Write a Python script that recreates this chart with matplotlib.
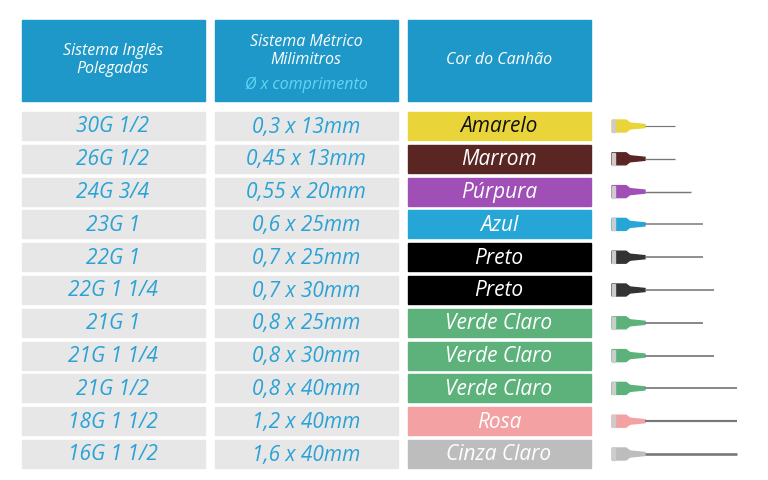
import matplotlib
matplotlib.use("Agg")
import matplotlib.pyplot as plt
from matplotlib.patches import Rectangle, Polygon

gauges = ["30G 1/2","26G 1/2","24G 3/4","23G 1","22G 1","22G 1 1/4","21G 1","21G 1 1/4","21G 1/2","18G 1 1/2","16G 1 1/2"]
metric = ["0,3 x 13mm","0,45 x 13mm","0,55 x 20mm","0,6 x 25mm","0,7 x 25mm","0,7 x 30mm","0,8 x 25mm","0,8 x 30mm","0,8 x 40mm","1,2 x 40mm","1,6 x 40mm"]
lengths_mm = [13,13,20,25,25,30,25,30,40,40,40]
diam_mm = [0.3,0.45,0.55,0.6,0.7,0.7,0.8,0.8,0.8,1.2,1.6]
color_names = ["Amarelo","Marrom","Púrpura","Azul","Preto","Preto","Verde Claro","Verde Claro","Verde Claro","Rosa","Cinza Claro"]
colors = ["#e9d53a","#5a2624","#a04fb6","#26a6d6","#000000","#000000","#5db27c","#5db27c","#5db27c","#f3a1a2","#bdbdbd"]
text_colors = ["#111111"] + ["#ffffff"]*10
headers = ["Sistema Inglês\nPolegadas","Sistema Métrico\nMilimitros","Cor do Canhão"]

fig = plt.figure(figsize=(7.68,4.8), dpi=100)
ax = fig.add_axes([0,0,1,1])
ax.set_xlim(0,768); ax.set_ylim(480,0); ax.axis("off")
font = "Open Sans"
hdr = "#1d98c8"; blue_txt = "#2aa2d6"; cell = "#e7e7e7"
cols = [(22,205),(215,398),(408,591)]
for (x0,x1) in cols:
    ax.add_patch(Rectangle((x0,20),x1-x0,81,color=hdr))
hs = 11.5
ax.text(113,60,headers[0],ha="center",va="center",color="white",fontsize=hs,style="italic",family=font,linespacing=1.15)
ax.text(306,51,headers[1],ha="center",va="center",color="white",fontsize=hs,style="italic",family=font,linespacing=1.15)
ax.text(306,85,"Ø x comprimento",ha="center",va="center",color="#63d6f7",fontsize=hs,style="italic",family=font)
ax.text(499,60,headers[2],ha="center",va="center",color="white",fontsize=hs,style="italic",family=font)

y0 = 112; pitch = 32.8; h = 28
for i in range(len(gauges)):
    y = y0 + i*pitch
    yc = y + h/2
    ax.add_patch(Rectangle((22,y),183,h,color=cell))
    ax.add_patch(Rectangle((215,y),183,h,color=cell))
    ax.add_patch(Rectangle((408,y),183,h,color=colors[i]))
    ax.text(113,yc+1,gauges[i],ha="center",va="center",color=blue_txt,fontsize=15,style="italic",family=font)
    ax.text(306,yc+1,metric[i],ha="center",va="center",color=blue_txt,fontsize=15,style="italic",family=font)
    ax.text(499,yc+1,color_names[i],ha="center",va="center",color=text_colors[i],fontsize=15,style="italic",family=font)
    hc = colors[i] if colors[i] != "#000000" else "#333333"
    ax.add_patch(Polygon([(612,yc-6),(626,yc-6),(630,yc-3),(645,yc-1.5),(645,yc+1.5),(630,yc+3),(626,yc+6),(612,yc+6)],color=hc))
    ax.add_patch(Rectangle((612,yc-6),3,12,color="#cccccc"))
    end = 645 + lengths_mm[i]*2.3
    ax.plot([645,end],[yc,yc],color="#777777",lw=0.6+diam_mm[i]*0.8,solid_capstyle="butt")
fig.savefig("out.png",dpi=100,facecolor="white")
